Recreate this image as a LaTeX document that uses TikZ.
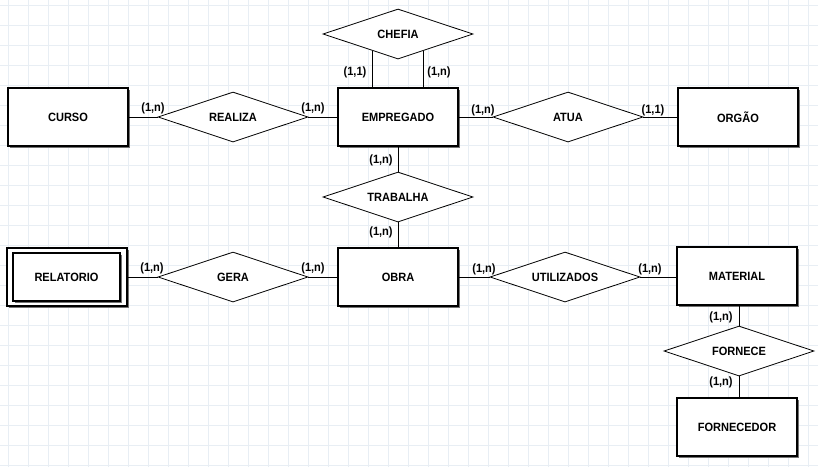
\documentclass[tikz,border=0pt]{standalone}
\usepackage{fontspec}
\newfontfamily\erfont[FakeStretch=0.92]{Liberation Sans}
\usetikzlibrary{shapes.geometric,shadows}
\definecolor{gridc}{HTML}{E8EEF4}
\begin{document}
\begin{tikzpicture}[x=1pt,y=-1pt,
  erf/.style={font=\erfont\bfseries\fontsize{12}{14}\selectfont},
  ent/.style={erf, draw, line width=1.1pt, fill=white, minimum width=120pt, minimum height=58pt, inner sep=0pt,
    drop shadow={shadow xshift=2pt, shadow yshift=-2pt, fill=black!55, opacity=1}},
  inent/.style={erf, draw, line width=1.1pt, fill=white, minimum width=107pt, minimum height=48pt, inner sep=0pt,
    drop shadow={shadow xshift=2pt, shadow yshift=-2pt, fill=black!55, opacity=1}},
  rel/.style={draw, diamond, line width=0.8pt, fill=white, minimum width=150pt, minimum height=50pt, inner sep=0pt,
    label={[erf, inner sep=0pt]center:#1}},
  card/.style={erf, inner sep=0pt},
  conn/.style={line width=0.8pt}
]
\useasboundingbox (0,0) rectangle (818,467);
\fill[white] (0,0) rectangle (818,467);
% grid
\foreach \gx in {8,28,...,808} \draw[gridc, line width=0.8pt] (\gx,0) -- (\gx,467);
\foreach \gy in {5,25,...,465} \draw[gridc, line width=0.8pt] (0,\gy) -- (818,\gy);

% entities
\node[ent] (EMP) at (398,117) {EMPREGADO};
\node[ent] (CURSO) at (68,117) {CURSO};
\node[ent] (ORGAO) at (738,117) {ORGÃO};
\node[ent] (OBRA) at (398,277) {OBRA};
\node[ent] (MAT) at (737,276) {MATERIAL};
\node[ent] (FORN) at (737,427) {FORNECEDOR};
\node[ent] (REL) at (67,277) {};
\node[inent] (RELIN) at (66.5,277) {RELATORIO};

% relationships
\node[rel=CHEFIA] (CHEFIA) at (398,34) {};
\node[rel=REALIZA] (REALIZA) at (233,117) {};
\node[rel=ATUA] (ATUA) at (568,117) {};
\node[rel=TRABALHA] (TRAB) at (398,197) {};
\node[rel=GERA] (GERA) at (233,277) {};
\node[rel=UTILIZADOS] (UTIL) at (565,277) {};
\node[rel=FORNECE] (FORNECE) at (739,351) {};

% connectors
\draw[conn] (CURSO) -- (REALIZA);
\draw[conn] (REALIZA) -- (EMP);
\draw[conn] (EMP) -- (ATUA);
\draw[conn] (ATUA) -- (ORGAO);
\draw[conn] (CHEFIA.213.69) -- (CHEFIA.213.69 |- EMP.north);
\draw[conn] (CHEFIA.326.31) -- (CHEFIA.326.31 |- EMP.north);
\draw[conn] (EMP) -- (TRAB);
\draw[conn] (TRAB) -- (OBRA);
\draw[conn] (REL) -- (GERA);
\draw[conn] (GERA) -- (OBRA);
\draw[conn] (OBRA) -- (UTIL);
\draw[conn] (UTIL) -- (UTIL -| MAT.west);
\draw[conn] (FORNECE.north |- MAT.south) -- (FORNECE.north);
\draw[conn] (FORNECE.south) -- (FORNECE.south |- FORN.north);

% cardinalities
\node[card] (c1) at (355,72) {(1,1)};
\node[card] (c2) at (439,72) {(1,n)};
\node[card] (c3) at (153,108) {(1,n)};
\node[card] (c4) at (313,108) {(1,n)};
\node[card] (c5) at (483,110) {(1,n)};
\node[card] (c6) at (653,110) {(1,1)};
\node[card] (c7) at (381,160) {(1,n)};
\node[card] (c8) at (381,232) {(1,n)};
\node[card] (c9) at (152,268) {(1,n)};
\node[card] (c10) at (313,268) {(1,n)};
\node[card] (c11) at (484,269) {(1,n)};
\node[card] (c12) at (650,269) {(1,n)};
\node[card] (c13) at (721,317) {(1,n)};
\node[card] (c14) at (721,382) {(1,n)};
\end{tikzpicture}
\end{document}
